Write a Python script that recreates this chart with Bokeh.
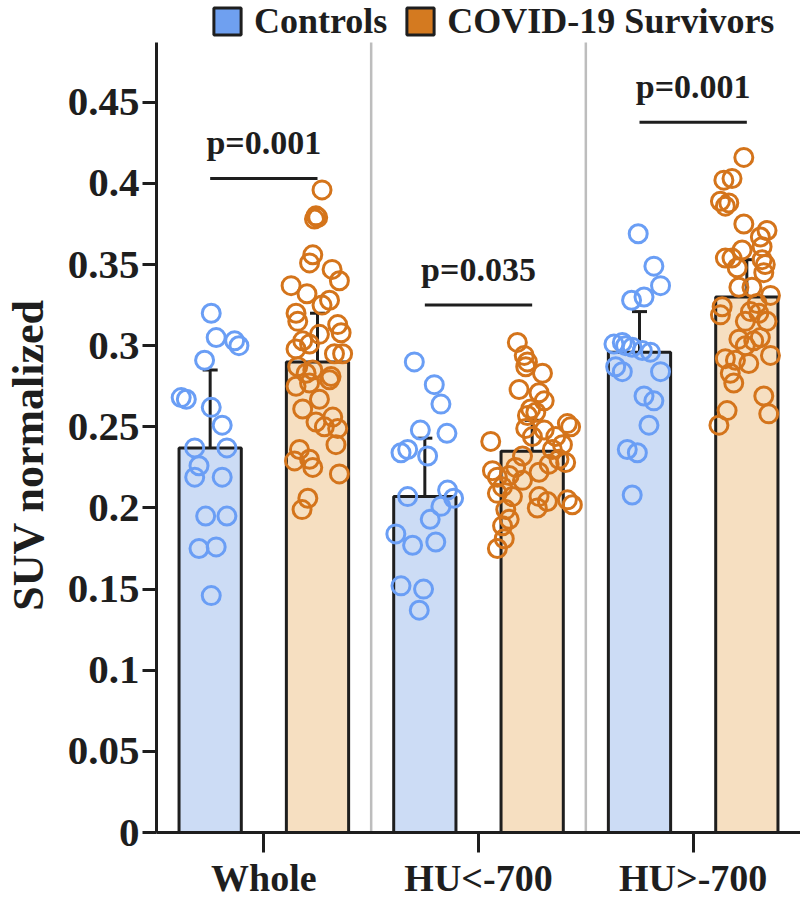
import numpy as np
from bokeh.plotting import figure
from bokeh.models import (Range1d, FixedTicker, Legend, LegendItem,
                          ColumnDataSource, Whisker, TeeHead, PrintfTickFormatter)
from bokeh.embed import file_html
from bokeh.resources import INLINE
from bokeh.core.properties import value

# ---------------- data ----------------
groups = ["Whole", "HU<-700", "HU>-700"]
series = ["Controls", "COVID-19 Survivors"]

ctrl_mean = [0.237, 0.207, 0.296]
surv_mean = [0.290, 0.235, 0.330]
ctrl_lo = [0.201, 0.180, 0.267]
ctrl_hi = [0.285, 0.243, 0.321]
surv_lo = [0.256, 0.210, 0.306]
surv_hi = [0.320, 0.254, 0.353]

p_labels = ["p=0.001", "p=0.035", "p=0.001"]
p_level = [0.403, 0.325, 0.4377]

y_ticks = [0, 0.05, 0.1, 0.15, 0.2, 0.25, 0.3, 0.35, 0.4, 0.45]
y_axis_top = 0.4869

whole_ctrl_y = [0.320, 0.305, 0.303, 0.300, 0.291, 0.268, 0.267, 0.262, 0.251, 0.237,
                0.237, 0.226, 0.219, 0.219, 0.195, 0.195, 0.175, 0.176, 0.146]
whole_ctrl_dx = [0.005, 0.028, 0.114, 0.134, -0.026, -0.135, -0.111, 0.005, 0.056, -0.072,
                 0.078, -0.052, -0.072, 0.056, -0.021, 0.078, -0.052, 0.028, 0.005]

whole_surv_y = [0.396, 0.380, 0.378, 0.379, 0.356, 0.351, 0.347, 0.340, 0.337, 0.332,
                0.328, 0.325, 0.320, 0.315, 0.313, 0.308, 0.307, 0.303, 0.298, 0.301,
                0.295, 0.295, 0.287, 0.285, 0.281, 0.275, 0.277, 0.267, 0.261, 0.253,
                0.256, 0.250, 0.249, 0.239, 0.236, 0.229, 0.230, 0.225, 0.221, 0.206,
                0.199, 0.279, 0.283]
whole_surv_dx = [0.021, -0.007, -0.014, 0.001, -0.022, -0.037, 0.068, 0.102, -0.123, -0.049,
                 0.056, 0.021, -0.100, -0.092, 0.094, 0.110, 0.009, -0.069, -0.100, -0.037,
                 0.079, 0.117, -0.092, -0.022, 0.063, -0.100, -0.037, 0.009, -0.069, -0.007,
                 0.071, 0.032, 0.094, 0.086, -0.084, -0.107, -0.037, -0.022, 0.102, -0.045,
                 -0.072, 0.056, -0.053]

hulo_ctrl_y = [0.290, 0.276, 0.264, 0.248, 0.246, 0.236, 0.234, 0.232, 0.211, 0.207,
               0.206, 0.201, 0.193, 0.184, 0.177, 0.179, 0.152, 0.150, 0.137]
hulo_ctrl_dx = [-0.049, 0.044, 0.075, -0.021, 0.103, -0.080, -0.111, 0.013, 0.106, -0.080,
                0.134, 0.075, 0.025, -0.135, -0.057, 0.051, -0.111, -0.006, -0.026]

hulo_surv_y = [0.302, 0.294, 0.290, 0.287, 0.283, 0.273, 0.271, 0.266, 0.261, 0.259,
               0.257, 0.252, 0.250, 0.249, 0.248, 0.244, 0.241, 0.244, 0.239, 0.236,
               0.232, 0.230, 0.227, 0.223, 0.225, 0.228, 0.222, 0.219, 0.220, 0.217,
               0.213, 0.209, 0.207, 0.205, 0.204, 0.202, 0.200, 0.199, 0.193, 0.189,
               0.181, 0.175, 0.207]
hulo_surv_dx = [-0.069, -0.037, -0.022, -0.030, 0.048, -0.061, 0.032, 0.056, -0.007, 0.017,
                -0.022, 0.164, 0.179, -0.030, 0.056, 0.110, -0.193, 0.001, 0.141, 0.094,
                -0.045, 0.125, 0.079, -0.185, -0.077, 0.156, 0.032, -0.162, -0.107, -0.045,
                -0.138, -0.162, -0.092, 0.164, 0.071, 0.187, 0.024, -0.123, -0.107, -0.138,
                -0.130, -0.162, 0.032]

huhi_ctrl_y = [0.369, 0.349, 0.337, 0.328, 0.330, 0.301, 0.302, 0.300, 0.299, 0.297,
               0.296, 0.287, 0.284, 0.284, 0.269, 0.266, 0.251, 0.236, 0.234, 0.208]
huhi_ctrl_dx = [-0.006, 0.067, 0.098, -0.037, 0.021, -0.119, -0.080, -0.065, -0.034, 0.013,
                0.051, -0.111, -0.080, 0.098, 0.021, 0.067, 0.044, -0.057, -0.010, -0.034]

huhi_surv_y = [0.416, 0.402, 0.403, 0.389, 0.388, 0.386, 0.375, 0.371, 0.367, 0.361,
               0.359, 0.354, 0.354, 0.353, 0.348, 0.350, 0.345, 0.336, 0.336, 0.331,
               0.324, 0.326, 0.319, 0.321, 0.320, 0.315, 0.315, 0.304, 0.305, 0.300,
               0.294, 0.292, 0.291, 0.289, 0.283, 0.277, 0.269, 0.258, 0.260, 0.251,
               0.303]
huhi_surv_dx = [-0.014, -0.107, -0.069, -0.123, -0.084, -0.100, -0.014, 0.094, 0.063, 0.071,
                -0.022, -0.100, -0.069, 0.071, -0.045, 0.086, 0.079, -0.037, 0.024, 0.110,
                -0.115, 0.048, -0.123, 0.017, 0.056, 0.094, -0.007, -0.037, 0.063, -0.007,
                0.110, -0.100, -0.053, 0.009, -0.077, -0.061, 0.079, 0.102, -0.092, -0.130,
                0.032]

ctrl_points = [(whole_ctrl_y, whole_ctrl_dx), (hulo_ctrl_y, hulo_ctrl_dx), (huhi_ctrl_y, huhi_ctrl_dx)]
surv_points = [(whole_surv_y, whole_surv_dx), (hulo_surv_y, hulo_surv_dx), (huhi_surv_y, huhi_surv_dx)]

# ---------------- styles ----------------
FONT = "Liberation Serif"
C_BLUE = "#6a9ef5"
C_ORANGE = "#d4741b"
F_BLUE = "#ccdcf5"
F_ORANGE = "#f6dfc1"
INK = "#1e1e1e"
OFF = 0.25
BW = 0.29

centers = np.arange(len(groups)) + 0.5
ctrl_x = centers - OFF
surv_x = centers + OFF

PX_PER_UNIT = 792 / y_axis_top          # frame pixels per data unit
frame_h = 834
y_end = frame_h / PX_PER_UNIT           # frame reaches the top of the canvas

p = figure(width=800, height=901, x_range=Range1d(0, 3), y_range=Range1d(0, y_end),
           output_backend="svg", toolbar_location=None,
           min_border_left=154, min_border_right=0, min_border_top=0, min_border_bottom=67)
p.xgrid.visible = False
p.ygrid.visible = False
p.outline_line_color = None
p.background_fill_color = "white"

# separators between groups
seps = list(range(1, len(groups)))
p.segment(x0=seps, x1=seps, y0=[0] * len(seps), y1=[y_axis_top] * len(seps),
          line_color="#bdbdbd", line_width=2.5)

# bars
p.vbar(x=ctrl_x, top=ctrl_mean, bottom=0, width=BW, fill_color=F_BLUE, line_color=INK, line_width=3)
p.vbar(x=surv_x, top=surv_mean, bottom=0, width=BW, fill_color=F_ORANGE, line_color=INK, line_width=3)

# points
for g, (ys, dxs) in enumerate(ctrl_points):
    xs = ctrl_x[g] + np.array(dxs)
    p.scatter(xs, ys, size=18, fill_color=None, line_color=C_BLUE, line_width=3)
for g, (ys, dxs) in enumerate(surv_points):
    xs = surv_x[g] + np.array(dxs)
    p.scatter(xs, ys, size=18, fill_color=None, line_color=C_ORANGE, line_width=3)

# error bars
err_src = ColumnDataSource(dict(x=list(ctrl_x) + list(surv_x),
                                lo=ctrl_lo + surv_lo, hi=ctrl_hi + surv_hi))
p.add_layout(Whisker(base="x", lower="lo", upper="hi", source=err_src,
                     line_color=INK, line_width=3,
                     upper_head=TeeHead(size=15, line_width=3, line_color=INK),
                     lower_head=TeeHead(size=15, line_width=3, line_color=INK)))

# significance lines
p.segment(x0=ctrl_x, x1=surv_x, y0=p_level, y1=p_level, line_color=INK, line_width=3)
p.text(x=centers, y=p_level, text=p_labels, text_align="center", text_baseline="alphabetic",
       y_offset=-36, text_font=value(FONT), text_font_style="bold", text_font_size="34px",
       text_color=INK)

# axes
p.xaxis.ticker = FixedTicker(ticks=list(centers))
p.xaxis.major_label_overrides = {float(c): g for c, g in zip(centers, groups)}
p.yaxis.ticker = FixedTicker(ticks=y_ticks)
p.yaxis.formatter = PrintfTickFormatter(format="%g")
p.yaxis.bounds = (0, y_axis_top)
for ax in (p.xaxis[0], p.yaxis[0]):
    ax.axis_line_width = 3
    ax.axis_line_color = INK
    ax.major_tick_line_width = 3
    ax.major_tick_line_color = INK
    ax.minor_tick_line_color = None
    ax.major_tick_in = 0
    ax.major_label_text_font = FONT
    ax.major_label_text_font_style = "bold"
    ax.major_label_text_color = INK
p.xaxis.major_label_text_font_size = "38px"
p.yaxis.major_label_text_font_size = "41px"
p.yaxis.major_tick_out = 14
p.xaxis.major_tick_out = 20
p.yaxis.major_label_standoff = 3
p.xaxis.major_label_standoff = 4
# trailing no-break spaces centre the visible label on the drawn axis rather than the frame
p.yaxis.axis_label = "SUV normalized" + "\u00a0" * 7
p.yaxis.axis_label_text_font = FONT
p.yaxis.axis_label_text_font_style = "bold"
p.yaxis.axis_label_text_font_size = "44px"
p.yaxis.axis_label_text_color = INK
p.yaxis.axis_label_standoff = 12

# legend (dummy renderers outside the visible range), placed above the axis top
r1 = p.vbar(x=[-5], top=[0.1], width=0.1, fill_color="#6fa0f0", line_color=INK, line_width=3)
r2 = p.vbar(x=[-5], top=[0.1], width=0.1, fill_color="#d47a20", line_color=INK, line_width=3)
legend = Legend(items=[LegendItem(label=series[0], renderers=[r1]),
                       LegendItem(label=series[1], renderers=[r2])],
                orientation="horizontal", location=(54, 790),
                glyph_width=34, glyph_height=34, label_standoff=10, spacing=16,
                padding=0, margin=0, border_line_alpha=0, background_fill_alpha=0,
                label_text_font=FONT, label_text_font_style="bold",
                label_text_font_size="36px", label_text_color=INK)
p.add_layout(legend, "center")

open("out.html", "w").write(file_html(p, INLINE))
